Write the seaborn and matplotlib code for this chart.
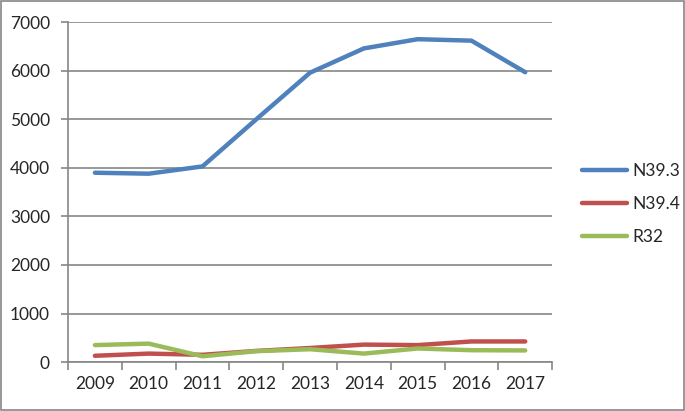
import pandas as pd
import matplotlib.pyplot as plt
import seaborn as sns

years = ['2009', '2010', '2011', '2012', '2013', '2014', '2015', '2016', '2017']
n39_3 = [3900, 3880, 4030, 5000, 5960, 6460, 6650, 6620, 5970]
n39_4 = [130, 175, 150, 230, 290, 360, 350, 425, 425]
r32 = [350, 380, 120, 225, 265, 175, 280, 245, 240]

series_names = ['N39.3', 'N39.4', 'R32']
colors = ['#4F81BD', '#C0504D', '#9BBB59']

df = pd.DataFrame({'year': years, 'N39.3': n39_3, 'N39.4': n39_4, 'R32': r32})
df = df.melt(id_vars='year', var_name='code', value_name='count')

sns.set_style('white')
plt.rcParams['font.family'] = ['Lato', 'DejaVu Sans']

fig = plt.figure(figsize=(6.85, 4.11), dpi=100)
ax = fig.add_axes([0.0993, 0.119, 0.7067, 0.827])

sns.lineplot(data=df, x='year', y='count', hue='code', hue_order=series_names,
             palette=colors, linewidth=3.2, ax=ax, sort=False)

ax.set_xlim(-0.5, 8.5)
ax.set_ylim(0, 7000)
ax.set_yticks(range(0, 7001, 1000))
ax.set_xlabel('')
ax.set_ylabel('')

ax.grid(axis='y', color='#868686', linewidth=1.2)
ax.set_axisbelow(True)
for side in ['top', 'right']:
    ax.spines[side].set_visible(False)
for side in ['left', 'bottom']:
    ax.spines[side].set_color('#868686')
    ax.spines[side].set_linewidth(1.2)

fs = 12.5
ax.set_xticks(range(len(years)))
ax.set_xticklabels(years)
ax.set_xticks([i - 0.5 for i in range(len(years) + 1)], minor=True)
ax.tick_params(axis='x', which='major', length=0, pad=10, labelsize=fs)
ax.tick_params(axis='x', which='minor', length=6, color='#868686', width=1.2, direction='out')
ax.tick_params(axis='y', length=5, pad=8, color='#868686', width=1.2, direction='out', labelsize=fs)
ax.tick_params(bottom=True, left=True, which='both')

handles, labels = ax.get_legend_handles_labels()
ax.legend(handles, labels, loc='center left', bbox_to_anchor=(1.03, 0.465),
          frameon=False, fontsize=fs, handlelength=2.6, handletextpad=0.3,
          labelspacing=1.0)

fig.patches.append(plt.Rectangle((0.001, 0.002), 0.997, 0.995, transform=fig.transFigure,
                                 fill=False, edgecolor='#868686', linewidth=1.2))

fig.savefig('out.png', dpi=100)
